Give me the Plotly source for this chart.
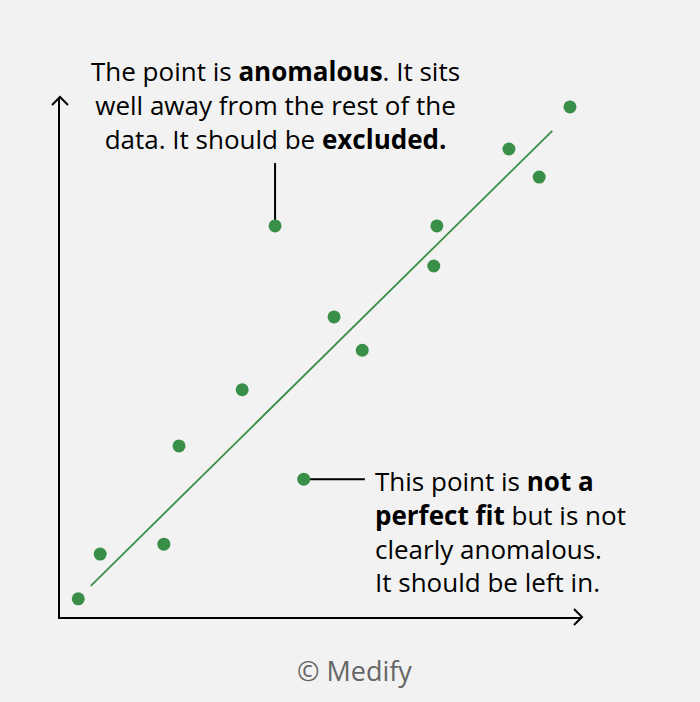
import plotly.graph_objects as go

# data (abstract units, axes 0-10)
pts_x = [0.35, 0.77, 1.99, 2.28, 3.49, 4.12, 4.67, 5.25, 5.79, 7.16, 7.22, 8.60, 9.18, 9.77]
pts_y = [0.35, 1.21, 1.40, 3.29, 4.37, 7.52, 2.65, 5.77, 5.13, 6.75, 7.52, 9.00, 8.46, 9.81]
fit_x = [0.59, 9.43]
fit_y = [0.60, 9.35]

anomalous = (4.12, 7.52)
borderline = (4.67, 2.65)

GREEN = "#3a8f48"
BG = "#f2f2f2"
FONT = "Open Sans"

fig = go.Figure()

fig.add_trace(go.Scatter(x=fit_x, y=fit_y, mode="lines",
                         line=dict(color=GREEN, width=1.8), hoverinfo="skip"))
fig.add_trace(go.Scatter(x=pts_x, y=pts_y, mode="markers",
                         marker=dict(color=GREEN, size=13)))

# callout lines
fig.add_shape(type="line", x0=anomalous[0], x1=anomalous[0], y0=anomalous[1], y1=8.73,
              xref="x", yref="y", line=dict(color="black", width=2), layer="below")
fig.add_shape(type="line", x0=borderline[0], x1=5.84, y0=borderline[1], y1=borderline[1],
              xref="x", yref="y", line=dict(color="black", width=2), layer="below")

# arrow heads on axes
fig.add_shape(type="path", xref="paper", yref="paper", xsizemode="pixel", ysizemode="pixel",
              xanchor=0, yanchor=1, path="M-8,-8 L0,0 L8,-8",
              line=dict(color="black", width=2))
fig.add_shape(type="path", xref="paper", yref="paper", xsizemode="pixel", ysizemode="pixel",
              xanchor=1, yanchor=0, path="M-8,8 L0,0 L-8,-8",
              line=dict(color="black", width=2))

fig.add_annotation(
    x=anomalous[0], y=9.85, xref="x", yref="y", showarrow=False,
    xanchor="center", yanchor="middle", align="center",
    text="The point is <b>anomalous</b>. It sits<br>well away from the rest of the<br>data. It should be <b>excluded.</b>",
    font=dict(family=FONT, size=26, color="black"),
)
fig.add_annotation(
    x=5.99, y=1.65, xref="x", yref="y", showarrow=False,
    xanchor="left", yanchor="middle", align="left",
    text="This point is <b>not a<br>perfect fit</b> but is not<br>clearly anomalous.<br>It should be left in.",
    font=dict(family=FONT, size=26, color="black"),
)
fig.add_annotation(
    x=0.565, y=-0.102, xref="paper", yref="paper", showarrow=False,
    xanchor="center", yanchor="middle",
    text="© Medify", font=dict(family=FONT, size=27, color="#666666"),
)

fig.update_xaxes(range=[0, 10], showgrid=False, zeroline=False, showticklabels=False,
                 ticks="", showline=True, linecolor="black", linewidth=2)
fig.update_yaxes(range=[0, 10], showgrid=False, zeroline=False, showticklabels=False,
                 ticks="", showline=True, linecolor="black", linewidth=2)

fig.update_layout(
    width=700, height=702,
    margin=dict(l=60, r=118, t=97, b=85),
    paper_bgcolor=BG, plot_bgcolor=BG,
    showlegend=False,
)

fig.write_html("out.html", config={"displayModeBar": False},
               post_script=f"document.body.style.margin='0';document.body.style.background='{BG}';")
